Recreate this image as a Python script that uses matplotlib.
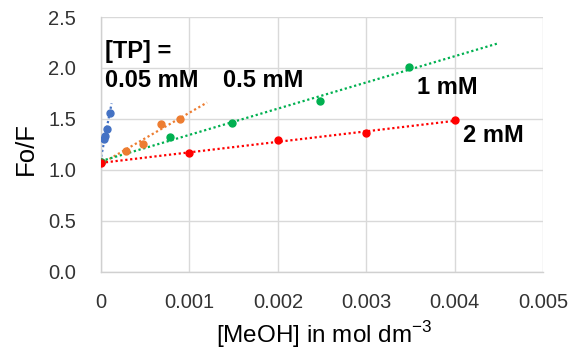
import numpy as np
import matplotlib
matplotlib.use("Agg")
import matplotlib.pyplot as plt

plt.rcParams['font.family'] = ['Liberation Sans', 'DejaVu Sans']
plt.rcParams['mathtext.fontset'] = 'custom'
plt.rcParams['mathtext.rm'] = 'Liberation Sans'

# [TP] = 0.05 mM
x_005 = [0.0, 0.00003, 0.00004, 0.00007, 0.0001]
y_005 = [1.08, 1.30, 1.33, 1.40, 1.56]
# 0.5 mM
x_05 = [0.0, 0.00028, 0.00048, 0.00068, 0.00089]
y_05 = [1.08, 1.19, 1.25, 1.45, 1.50]
# 1 mM
x_1 = [0.0, 0.00078, 0.00148, 0.00248, 0.00348]
y_1 = [1.08, 1.32, 1.46, 1.68, 2.01]
# 2 mM
x_2 = [0.0, 0.001, 0.002, 0.003, 0.004]
y_2 = [1.07, 1.17, 1.29, 1.36, 1.49]

series = [
    (x_005, y_005, '#4472C4', (-0.00003, 0.00012)),
    (x_05, y_05, '#ED7D31', (0.0, 0.0012)),
    (x_1, y_1, '#00B050', (0.0, 0.0045)),
    (x_2, y_2, '#FF0000', (0.0, 0.004)),
]

fig = plt.figure(figsize=(5.79, 3.52), dpi=100)
ax = fig.add_axes([0.1744, 0.2273, 0.938 - 0.1744, 0.9517 - 0.2273])

for xs, ys, c, (a, b) in series:
    k, m = np.polyfit(xs, ys, 1)
    xx = np.array([a, b])
    ax.plot(xx, k * xx + m, color=c, linestyle=(0, (1, 1.2)), linewidth=1.6, zorder=2)
    ax.plot(xs, ys, 'o', color=c, markersize=5, zorder=3)

ax.set_xlim(0, 0.005)
ax.set_ylim(0, 2.5)
ax.set_xticks([0, 0.001, 0.002, 0.003, 0.004, 0.005])
ax.set_xticklabels(['0', '0.001', '0.002', '0.003', '0.004', '0.005'])
ax.set_yticks([0, 0.5, 1.0, 1.5, 2.0, 2.5])
ax.set_yticklabels(['0.0', '0.5', '1.0', '1.5', '2.0', '2.5'])
ax.tick_params(axis='y', length=0, labelsize=14.5, colors='#333333', pad=18)
ax.tick_params(axis='x', length=0, labelsize=14.5, colors='#333333', pad=15)
ax.grid(True, color='#d9d9d9', linewidth=1)
ax.set_axisbelow(True)
for s in ['top', 'right']:
    ax.spines[s].set_visible(False)
for s in ['left', 'bottom']:
    ax.spines[s].set_color('#d0d0d0')
    ax.spines[s].set_linewidth(1)

ax.set_ylabel('Fo/F', fontsize=18.5, va='center')
ax.yaxis.set_label_coords(-0.17, 0.484)
ax.set_xlabel('[MeOH] in mol dm$^{-3}$', fontsize=17.5, va='baseline')
ax.xaxis.set_label_coords(0.504, -0.28)

kw = dict(fontsize=17, fontweight='bold', va='baseline')
ax.text(0.000045, 2.10, '[TP] =', **kw)
ax.text(0.000045, 1.815, '0.05 mM', **kw)
ax.text(0.00138, 1.815, '0.5 mM', **kw)
ax.text(0.00357, 1.745, '1 mM', **kw)
ax.text(0.00409, 1.277, '2 mM', **kw)

fig.savefig('out.png', dpi=100)
